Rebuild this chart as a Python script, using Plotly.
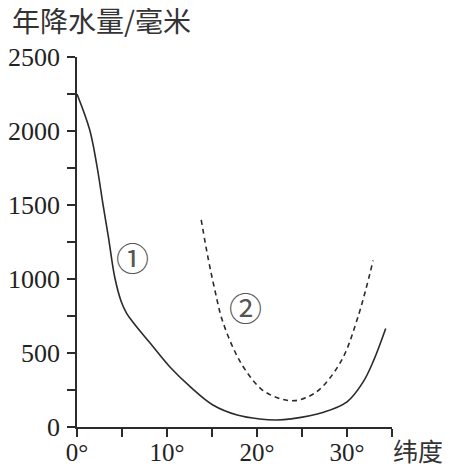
import plotly.graph_objects as go

# 曲线① (实线) 纬度 / 年降水量
lat_1 = [0, 1.4, 2.2, 2.9, 3.5, 4.2, 4.9, 5.5, 6.2, 8.1, 10.3, 12.6, 15.1, 17.8, 20.3, 22.2, 23.8, 27.4, 30, 31.8, 33, 34.3]
rain_1 = [2250, 2010, 1770, 1500, 1280, 1010, 850, 770, 710, 569, 407, 271, 149, 81, 54, 47, 55, 100, 170, 305, 455, 665]

# 曲线② (虚线)
lat_2 = [13.8, 14.6, 15.3, 16.1, 17.5, 18.7, 20.5, 22.4, 24.2, 26.6, 29.3, 31.2, 32.9]
rain_2 = [1400, 1130, 930, 730, 515, 386, 255, 195, 178, 237, 440, 740, 1125]

y_ticks = [0, 250, 500, 750, 1000, 1250, 1500, 1750, 2000, 2250, 2500]
y_text = [str(v) if v % 500 == 0 else "" for v in y_ticks]
x_ticks = [0, 5, 10, 15, 20, 25, 30, 35]
x_text = [f"{v}°" if v in (0, 10, 20, 30) else "" for v in x_ticks]

INK = "#2b2b2b"
SERIF = "Liberation Serif, Times New Roman, DejaVu Serif, serif"
CJK = "Noto Sans CJK SC"

fig = go.Figure()

fig.add_trace(go.Scatter(
    x=lat_1, y=rain_1, mode="lines",
    line=dict(color=INK, width=1.6, shape="spline", smoothing=1.0),
    showlegend=False, cliponaxis=False,
))
fig.add_trace(go.Scatter(
    x=lat_2, y=rain_2, mode="lines",
    line=dict(color=INK, width=1.6, shape="spline", smoothing=1.0, dash="5px,4px"),
    showlegend=False, cliponaxis=False,
))

axis_common = dict(
    showgrid=False, zeroline=False, showline=True, automargin=False,
    linecolor=INK, linewidth=1.5,
    ticks="outside", ticklen=8, tickwidth=1.5, tickcolor=INK,
    fixedrange=True,
)

# 页面 body 默认有 8px 边距, 这里把边距整体左移/上移 8px
fig.update_layout(
    width=450, height=469,
    margin=dict(l=69, r=66, t=49, b=50),
    plot_bgcolor="white", paper_bgcolor="white",
    xaxis=dict(range=[0, 35], tickmode="array", tickvals=x_ticks, ticktext=x_text,
               tickfont=dict(family=SERIF, size=25, color="#222"),
               ticklabelstandoff=-6, **axis_common),
    yaxis=dict(range=[0, 2500], tickmode="array", tickvals=y_ticks, ticktext=y_text,
               tickfont=dict(family=SERIF, size=26, color="#222"),
               ticklabelstandoff=2, **axis_common),
    annotations=[
        dict(text="年降水量/毫米", x=0, y=1, xref="paper", yref="paper",
             xanchor="left", yanchor="middle", xshift=-67, yshift=37,
             showarrow=False, font=dict(family=CJK, size=28, color="#333")),
        dict(text="纬度", x=1, y=0, xref="paper", yref="paper",
             xanchor="center", yanchor="middle", xshift=26, yshift=-23,
             showarrow=False, font=dict(family=CJK, size=25, color="#333")),
        dict(text="①", x=6.2, y=1146, showarrow=False,
             font=dict(family=CJK, size=33, color="#555")),
        dict(text="②", x=18.7, y=814, showarrow=False,
             font=dict(family=CJK, size=33, color="#555")),
    ],
)

fig.write_html("out.html")
